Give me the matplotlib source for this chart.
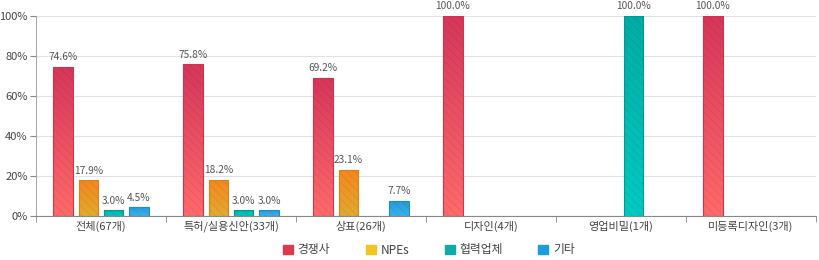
import numpy as np
import matplotlib
matplotlib.use("Agg")
import matplotlib.pyplot as plt
import matplotlib.colors as clr
from matplotlib.patches import Patch

plt.rcParams['font.family'] = ['Noto Sans CJK KR', 'DejaVu Sans']
plt.rcParams['hatch.linewidth'] = 0.6

categories = ['전체(67개)', '특허/실용신안(33개)', '상표(26개)', '디자인(4개)', '영업비밀(1개)', '미등록디자인(3개)']
series_names = ['경쟁사', 'NPEs', '협력업체', '기타']
rival = [74.6, 75.8, 69.2, 100.0, 0, 100.0]
npes = [17.9, 18.2, 23.1, 0, 0, 0]
partner = [3.0, 3.0, 0, 0, 100.0, 0]
other = [4.5, 3.0, 7.7, 0, 0, 0]
y_ticks = [0, 20, 40, 60, 80, 100]

values = [rival, npes, partner, other]
# (top, bottom, edge) gradient colours
grads = [('#d6365a', '#ff6a6a', '#cc3550'),
         ('#f5861e', '#e2aa30', '#d98218'),
         ('#00aca4', '#00cac3', '#009a92'),
         ('#2797d4', '#35b4ef', '#1f8cc6')]
legend_cols = ['#dc3a4c', '#f4c522', '#12aaa4', '#1a9ddc']

fig = plt.figure(figsize=(8.2, 2.6), dpi=100)
ax = fig.add_axes([36/820, 1-216.3/260, 780/820, 200.3/260])

x = np.arange(len(categories))
step = 0.195
width = 0.15
grad = np.linspace(0, 1, 256).reshape(-1, 1)

for i, vals in enumerate(values):
    top, bot, edge = grads[i]
    cmap = clr.LinearSegmentedColormap.from_list('g%d' % i, [bot, top])
    off = (i - 1.5) * step
    for xi, v in zip(x, vals):
        if v <= 0:
            continue
        x0 = xi + off - width / 2
        bar = ax.bar(xi + off, v, width, color='none', edgecolor=edge, linewidth=0.8, zorder=3)[0]
        im = ax.imshow(grad, cmap=cmap, extent=[x0, x0 + width, 0, v], origin='lower',
                       aspect='auto', zorder=2)
        im.set_clip_path(bar)
        ax.bar(xi + off, v, width, color='none', edgecolor=(0, 0, 0, 0.07),
               hatch='\\\\\\\\', linewidth=0, zorder=2.5)
        ax.text(xi + off, v + 2.3, '%.1f%%' % v, ha='center', va='bottom',
                fontsize=7.3, color='#555555', zorder=4)

ax.set_xlim(-0.5, len(categories) - 0.5)
ax.set_ylim(0, 100)
ax.set_yticks(y_ticks)
ax.set_yticklabels(['%d%%' % t for t in y_ticks])
ax.set_xticks(x)
ax.set_xticklabels(categories)
ax.set_xticks(np.arange(len(categories) + 1) - 0.5, minor=True)
ax.tick_params(axis='x', which='major', length=0, pad=3, labelsize=8, labelcolor='#444444')
ax.tick_params(axis='x', which='minor', length=4, direction='out', color='#888888')
ax.tick_params(axis='y', length=4, color='#888888', labelsize=8, labelcolor='#444444', pad=2)
ax.grid(axis='y', color='#e2e2e2', linewidth=0.8, zorder=0)
ax.set_axisbelow(True)
for s in ['top', 'right']:
    ax.spines[s].set_visible(False)
ax.spines['left'].set_color('#aaaaaa')
ax.spines['bottom'].set_color('#888888')

handles = [Patch(facecolor=c, edgecolor=c) for c in legend_cols]
fig.legend(handles, series_names, loc='center', bbox_to_anchor=(0.523, 1 - 250/260), ncol=4,
           frameon=False, fontsize=8.5, handlelength=0.85, handleheight=0.85,
           handletextpad=0.4, columnspacing=3.0, labelcolor='#444444')

fig.savefig('out.png', dpi=100)
